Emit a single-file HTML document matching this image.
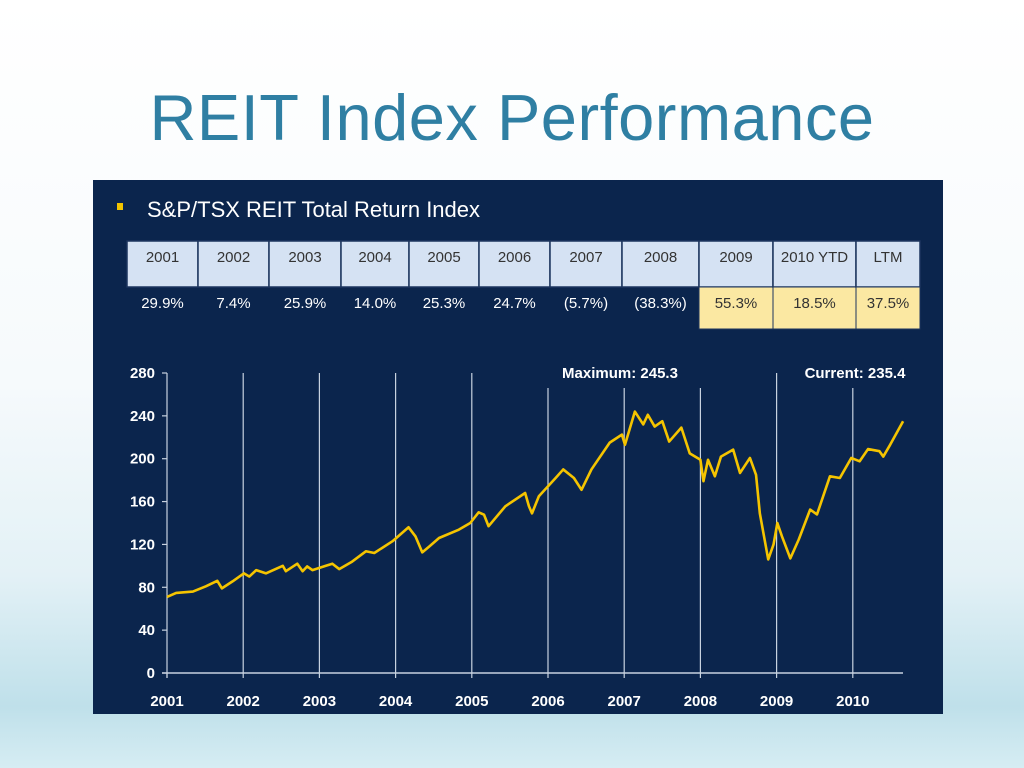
<!DOCTYPE html>
<html><head><meta charset="utf-8"><style>
body{margin:0;width:1024px;height:768px;overflow:hidden;font-family:"Liberation Sans",Arial,sans-serif;
background:linear-gradient(180deg,#ffffff 0%,#f6fafc 50%,#e3f1f6 75%,#bfe0ea 92%,#d6edf3 100%);position:relative}
#title{position:absolute;left:0;width:1024px;top:80px;text-align:center;font-size:65px;color:#2f7fa3;letter-spacing:0.5px}
#panel{position:absolute;left:93px;top:180px;width:850px;height:534px;background:#0b254d}
</style></head><body>
<div id="title">REIT Index Performance</div>
<div id="panel"></div>
<svg id="svg" width="1024" height="768" style="position:absolute;left:0;top:0"></svg>
<script>
const years=["2001","2002","2003","2004","2005","2006","2007","2008","2009","2010 YTD","LTM"];
const returns=["29.9%","7.4%","25.9%","14.0%","25.3%","24.7%","(5.7%)","(38.3%)","55.3%","18.5%","37.5%"];
const yTicks=[0,40,80,120,160,200,240,280];
const xTicks=[2001,2002,2003,2004,2005,2006,2007,2008,2009,2010];
const tTimes=[2001.0,2001.12,2001.34,2001.51,2001.66,2001.72,2001.86,2002.01,2002.08,2002.17,2002.3,2002.52,2002.56,2002.71,2002.78,2002.84,2002.91,2003.08,2003.17,2003.26,2003.43,2003.61,2003.72,2003.96,2004.17,2004.26,2004.35,2004.44,2004.57,2004.83,2004.98,2005.09,2005.16,2005.22,2005.44,2005.7,2005.75,2005.79,2005.88,2006.1,2006.2,2006.34,2006.44,2006.57,2006.81,2006.97,2007.01,2007.14,2007.25,2007.31,2007.4,2007.5,2007.59,2007.75,2007.86,2008.0,2008.04,2008.1,2008.19,2008.27,2008.43,2008.52,2008.65,2008.73,2008.78,2008.89,2008.96,2009.01,2009.07,2009.18,2009.29,2009.44,2009.53,2009.7,2009.83,2009.98,2010.09,2010.2,2010.35,2010.4,2010.49,2010.66];
const tValues=[71,74.7,76,80.9,86,79,85.5,93,90,96,93,100,95,102,95,99.5,96,100,102,97,104,113.6,112,123,136,127.6,112.6,118,126,133.8,140,150,147.8,137,155.6,168,155.6,149,165,182,190,182,171,190,215,222.5,213,244,232,241,230,235,216,229,205,199,179,199,183.6,202,208.5,186.7,200.7,185,149,106,120,140,127.6,107,124.5,152.5,148,183.6,182,200.7,197.6,209,207,202,213,235];
const NS="http://www.w3.org/2000/svg";
const svg=document.getElementById('svg');
function mk(tag,attrs,txt){const e=document.createElementNS(NS,tag);for(const k in attrs)e.setAttribute(k,attrs[k]);if(txt!==undefined)e.textContent=txt;svg.appendChild(e);return e;}
const X=t=>167+(t-2001)*76.2, Y=v=>673-v*(300/280);
let b=mk('rect',{x:117,y:203,width:6,height:7,fill:'#f2c400'});


let st=mk('text',{x:147,y:217,fill:'#fff','font-size':22},'S&P/TSX REIT Total Return Index');


const bounds=[127,198,269,341,409,479,550,622,699,773,856,920];
years.forEach((y,i)=>{
 const x0=bounds[i],x1=bounds[i+1],cx=(x0+x1)/2;
 let h=mk('rect',{x:x0,y:241,width:x1-x0,height:46,fill:'#d5e2f3',stroke:'#1c355e','stroke-width':1.5});
 
 
 let ht=mk('text',{x:cx,y:262,fill:'#333','font-size':15,'text-anchor':'middle'},y);
 
 
 const hi=i>=8;
 if(hi){let c=mk('rect',{x:x0,y:287,width:x1-x0,height:42,fill:'#fbe8a2',stroke:'#1c355e','stroke-width':1});
  
  }
 let vt=mk('text',{x:cx,y:308,fill:hi?'#333':'#fff','font-size':15,'text-anchor':'middle'},returns[i]);
 
 
});
const lateTop=[2006,2007,2008,2010];
xTicks.forEach(t=>{
 if(t>2001){let g=mk('line',{x1:X(t),x2:X(t),y1:lateTop.includes(t)?388:373,y2:673,stroke:'#c8d2e0','stroke-width':1.2});
  
  }
 let tk=mk('line',{x1:X(t),x2:X(t),y1:673,y2:678,stroke:'#c8d2e0','stroke-width':1.2});
 
 
 let l=mk('text',{x:X(t),y:706,fill:'#fff','font-size':15,'font-weight':'bold','text-anchor':'middle'},t);
 
 
});
let ya=mk('line',{x1:167,x2:167,y1:373,y2:678,stroke:'#c8d2e0','stroke-width':1.2});


let xa=mk('line',{x1:162,x2:903,y1:673,y2:673,stroke:'#c8d2e0','stroke-width':1.5});


yTicks.forEach(v=>{
 let tk=mk('line',{x1:162,x2:167,y1:Y(v),y2:Y(v),stroke:'#c8d2e0','stroke-width':1.2});
 
 
 let l=mk('text',{x:155,y:Y(v)+5,fill:'#fff','font-size':15,'font-weight':'bold','text-anchor':'end'},v);
 
 
});
let pl=mk('polyline',{points:tTimes.map((t,i)=>X(t)+','+Y(tValues[i])).join(' '),fill:'none',stroke:'#f5c400','stroke-width':2.6,'stroke-linejoin':'round'});


let mx=mk('text',{x:620,y:378,fill:'#fff','font-size':15,'font-weight':'bold','text-anchor':'middle'},'Maximum: 245.3');


let cu=mk('text',{x:855,y:378,fill:'#fff','font-size':15,'font-weight':'bold','text-anchor':'middle'},'Current: 235.4');


</script>
</body></html>
